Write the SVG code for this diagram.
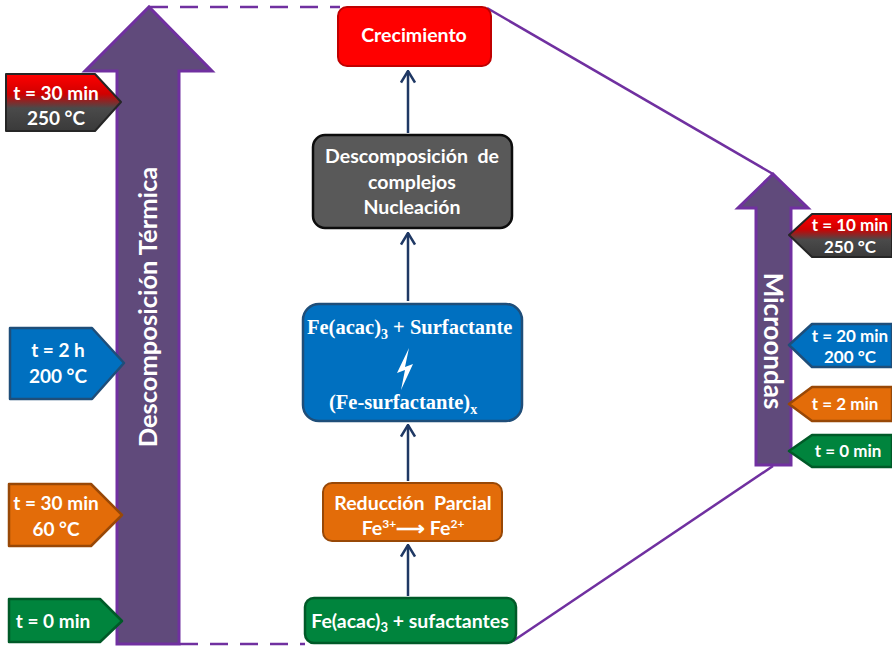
<svg xmlns="http://www.w3.org/2000/svg" width="892" height="646" viewBox="0 0 892 646">
  <defs>
    <style>
      .lbl { font-family: Lato, "Open Sans", "Liberation Sans", sans-serif; font-weight: bold; fill: #ffffff; text-anchor: middle; white-space: pre; }
      .ser { font-family: "Liberation Serif", "Times New Roman", serif; font-weight: bold; fill: #ffffff; }
      .tag { font-size: 19px; }
      .rtag { font-size: 17px; }
      .box { font-size: 19.5px; }
      .frame { fill: none; stroke: #7030a0; stroke-width: 2.5; }
      .dash { stroke-dasharray: 18 12; }
      .link { fill: none; stroke: #1f3864; stroke-width: 2.5; marker-end: url(#chev); }
      .bigarrow { fill: #604a7b; stroke: #7030a0; stroke-width: 3; stroke-linejoin: miter; }
    </style>
    <marker id="chev" viewBox="0 0 14 16" refX="12.5" refY="8" markerWidth="14" markerHeight="16" markerUnits="userSpaceOnUse" orient="auto">
      <path d="M1,1 L12.5,8 L1,15" fill="none" stroke="#1f3864" stroke-width="2.5" stroke-linejoin="miter"/>
    </marker>
    <linearGradient id="hot" x1="0" y1="0" x2="0" y2="1">
      <stop offset="0" stop-color="#ff0000"/>
      <stop offset="0.35" stop-color="#d00000"/>
      <stop offset="0.6" stop-color="#4a4a4a"/>
      <stop offset="1" stop-color="#3a3a3a"/>
    </linearGradient>
  </defs>

  <!-- outline linking the two timelines to the reaction column -->
  <g id="connectors">
    <line class="frame dash" x1="150" y1="7" x2="340" y2="7"/>
    <line class="frame dash" x1="180" y1="644" x2="305" y2="644"/>
    <line class="frame" x1="487" y1="8" x2="773" y2="174"/>
    <line class="frame" x1="773" y1="466" x2="513" y2="641"/>
    <line class="link" x1="408" y1="596" x2="408" y2="545"/>
    <line class="link" x1="408" y1="481" x2="408" y2="425"/>
    <line class="link" x1="408" y1="301" x2="408" y2="233"/>
    <line class="link" x1="408" y1="133" x2="408" y2="71"/>
  </g>

  <!-- thermal decomposition timeline -->
  <g id="termica">
    <polygon class="bigarrow" points="117,644 117,71 85,71 149,7 212,71 179,71 179,644"/>
    <text class="lbl" font-size="25.5" transform="translate(157,307) rotate(-90)">Descomposición Térmica</text>
  </g>

  <!-- microwave timeline -->
  <g id="microondas">
    <polygon class="bigarrow" points="756,465 756,208 738,208 773,174 808,208 791,208 791,465"/>
    <text class="lbl" font-size="26" transform="translate(764,341) rotate(90)">Microondas</text>
  </g>

  <!-- left tags -->
  <g id="tag-t30-250">
    <polygon points="6,74 95,74 121,102 95,131 6,131" fill="url(#hot)" stroke="#262626" stroke-width="2" stroke-linejoin="round"/>
    <text class="lbl tag" x="56" y="100">t = 30 min</text>
    <text class="lbl tag" x="56" y="125">250 °C</text>
  </g>
  <g id="tag-t2h-200">
    <polygon points="10,328 92,328 124,363 92,399 10,399" fill="#0070c0" stroke="#1f4e79" stroke-width="2.5" stroke-linejoin="round"/>
    <text class="lbl tag" x="58" y="357">t = 2 h</text>
    <text class="lbl tag" x="58" y="383">200 °C</text>
  </g>
  <g id="tag-t30-60">
    <polygon points="9,484 91,484 122,515 91,546 9,546" fill="#e36c09" stroke="#984807" stroke-width="2.5" stroke-linejoin="round"/>
    <text class="lbl tag" x="56" y="510">t = 30 min</text>
    <text class="lbl tag" x="56" y="536">60 °C</text>
  </g>
  <g id="tag-t0-left">
    <polygon points="9,599 100,599 122,621 100,642 9,642" fill="#00843d" stroke="#005a28" stroke-width="2.5" stroke-linejoin="round"/>
    <text class="lbl tag" x="53" y="628">t = 0 min</text>
  </g>

  <!-- right tags -->
  <g id="tag-t10-250">
    <polygon points="892,214 812,214 789,235 812,257 892,257" fill="url(#hot)" stroke="#262626" stroke-width="2" stroke-linejoin="round"/>
    <text class="lbl rtag" x="850" y="231">t = 10 min</text>
    <text class="lbl rtag" x="850" y="253">250 °C</text>
  </g>
  <g id="tag-t20-200">
    <polygon points="892,324 812,324 789,345 812,367 892,367" fill="#0070c0" stroke="#1f4e79" stroke-width="2.5" stroke-linejoin="round"/>
    <text class="lbl rtag" x="850" y="342">t = 20 min</text>
    <text class="lbl rtag" x="850" y="363">200 °C</text>
  </g>
  <g id="tag-t2">
    <polygon points="892,387 812,387 789,404 812,421 892,421" fill="#e36c09" stroke="#984807" stroke-width="2.5" stroke-linejoin="round"/>
    <text class="lbl rtag" x="845" y="410">t = 2 min</text>
  </g>
  <g id="tag-t0-right">
    <polygon points="892,435 812,435 789,451 812,467 892,467" fill="#00843d" stroke="#005a28" stroke-width="2.5" stroke-linejoin="round"/>
    <text class="lbl rtag" x="848" y="457">t = 0 min</text>
  </g>

  <!-- reaction steps -->
  <g id="crecimiento">
    <rect x="338" y="7" width="153" height="59" rx="9" fill="#ff0000" stroke="#c00000" stroke-width="2"/>
    <text class="lbl box" x="414" y="42">Crecimiento</text>
  </g>
  <g id="nucleacion">
    <rect x="313" y="135" width="199" height="93" rx="12" fill="#595959" stroke="#0d0d0d" stroke-width="2.5"/>
    <text class="lbl box" x="412" y="163">Descomposición  de</text>
    <text class="lbl box" x="412" y="189">complejos</text>
    <text class="lbl box" x="412" y="214">Nucleación</text>
  </g>
  <g id="complejo">
    <rect x="303" y="304" width="219" height="117" rx="16" fill="#0070c0" stroke="#1f4e79" stroke-width="2.5"/>
    <text class="ser" x="307" y="334" font-size="20.5">Fe(acac)<tspan font-size="14" dy="5">3</tspan><tspan dy="-5"> + Surfactante</tspan></text>
    <!-- equilibrium mark -->
    <path d="M409,348 L397,373 L405,370 L401,390 L413,364 L405,367 Z" fill="#ffffff"/>
    <text class="ser" x="329" y="409" font-size="20.5">(Fe-surfactante)<tspan font-size="14" dy="5">x</tspan></text>
  </g>
  <g id="reduccion">
    <rect x="323" y="483" width="179" height="58" rx="9" fill="#e36c09" stroke="#984807" stroke-width="2"/>
    <text class="lbl box" x="413" y="510">Reducción  Parcial</text>
    <text class="lbl box" x="413" y="535">Fe<tspan font-size="12" dy="-7">3+</tspan><tspan dy="7">⟶ Fe</tspan><tspan font-size="12" dy="-7">2+</tspan></text>
  </g>
  <g id="precursores">
    <rect x="305" y="598" width="211" height="45" rx="9" fill="#00843d" stroke="#005a28" stroke-width="2.5"/>
    <text class="lbl box" x="410" y="628">Fe(acac)<tspan font-size="13" dy="4">3</tspan><tspan dy="-4"> + sufactantes</tspan></text>
  </g>
</svg>
